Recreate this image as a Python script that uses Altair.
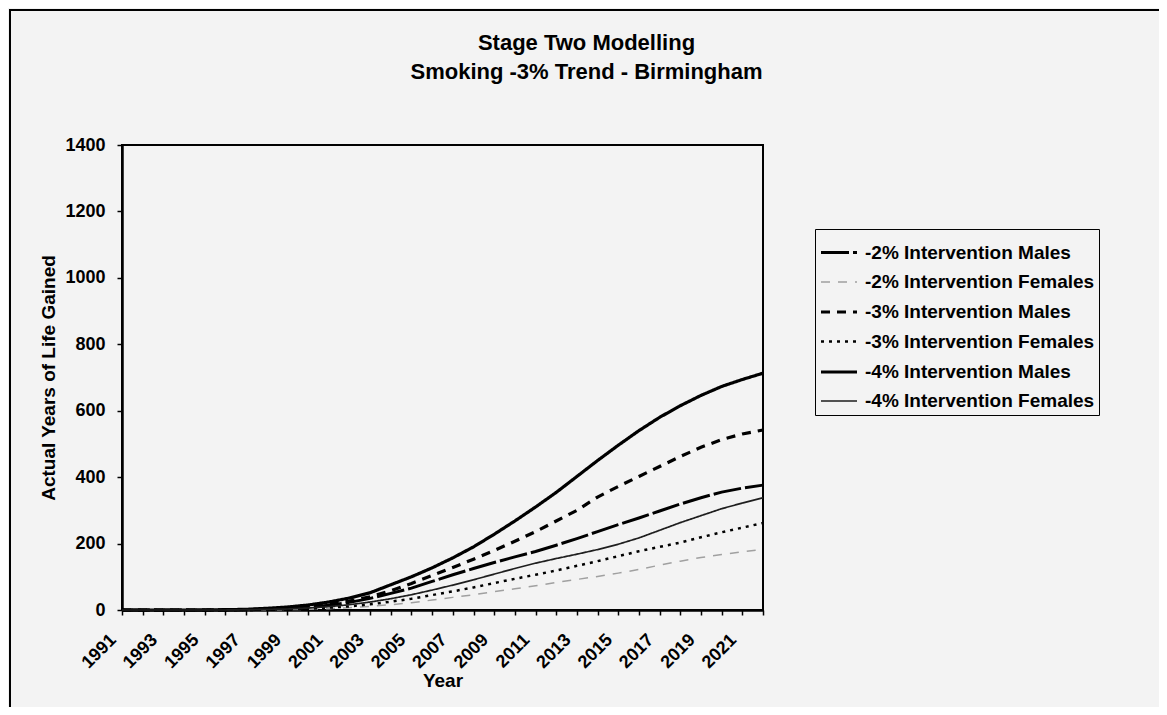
import altair as alt
import pandas as pd

years = list(range(1991, 2023))
series_names = [
    "-2% Intervention Males",
    "-2% Intervention Females",
    "-3% Intervention Males",
    "-3% Intervention Females",
    "-4% Intervention Males",
    "-4% Intervention Females",
]

m2 = [0, 0, 0, 0, 0, 0, 1, 2, 4, 8, 14, 23, 35, 50, 66, 86, 106, 125, 143, 160, 176, 195, 215, 236, 257, 277, 298, 319, 338, 355, 367, 376]
f2 = [0, 0, 0, 0, 0, 0, 0, 1, 1, 2, 4, 7, 11, 16, 22, 30, 38, 46, 55, 64, 73, 83, 92, 101, 111, 122, 135, 147, 158, 167, 175, 183]
m3 = [0, 0, 0, 0, 0, 0, 1, 3, 6, 11, 18, 27, 40, 58, 80, 104, 128, 153, 179, 207, 236, 268, 300, 340, 372, 402, 432, 462, 490, 513, 530, 542]
f3 = [0, 0, 0, 0, 0, 0, 0, 1, 2, 4, 7, 11, 17, 25, 34, 45, 56, 68, 81, 94, 106, 119, 133, 147, 162, 177, 190, 203, 219, 234, 248, 262]
m4 = [0, 0, 0, 0, 0, 1, 2, 5, 9, 15, 24, 36, 52, 76, 100, 127, 157, 190, 228, 268, 310, 354, 402, 450, 496, 540, 580, 615, 646, 673, 694, 713]
f4 = [0, 0, 0, 0, 0, 0, 1, 2, 3, 6, 10, 16, 24, 34, 46, 60, 75, 91, 108, 125, 141, 155, 168, 182, 198, 217, 240, 263, 284, 305, 322, 338]

y_ticks = [0, 200, 400, 600, 800, 1000, 1200, 1400]

colors = ["#000000", "#a0a0a0", "#000000", "#000000", "#000000", "#1e1e1e"]
dashes = [[28, 4], [9, 8], [9, 7], [3, 5], [1, 0], [1, 0]]
widths = [3.0, 1.5, 3.2, 2.5, 3.2, 1.7]

rows = []
for name, vals in zip(series_names, [m2, f2, m3, f3, m4, f4]):
    for yr, v in zip(years, vals):
        rows.append({"Year": yr, "Value": v, "Series": name})
df = pd.DataFrame(rows)

FONT = "Liberation Sans"
BG = "#f3f3f3"

legend = alt.Legend(
    title=None,
    orient="none",
    legendX=693,
    legendY=84,
    symbolType="stroke",
    symbolSize=1296,
    labelFont=FONT,
    labelFontSize=19,
    labelFontWeight="bold",
    labelColor="#000000",
    labelLimit=400,
    labelOffset=6,
    strokeColor="#000000",
    fillColor=BG,
    padding=4,
    rowPadding=-7,
)

lines = alt.Chart(df).mark_line().encode(
    x=alt.X(
        "Year:Q",
        scale=alt.Scale(domain=[1991, 2022], nice=False, zero=False),
        axis=alt.Axis(
            values=years,
            format="d",
            labelExpr="datum.value % 2 == 1 ? datum.label : ''",
            labelAngle=-45,
            labelAlign="right",
            labelBaseline="middle",
            labelPadding=22,
            labelOffset=-9,
            labelOverlap=False,
            labelFlush=False,
            tickSize=5,
            titlePadding=0,
        ),
        title="Year",
    ),
    y=alt.Y(
        "Value:Q",
        scale=alt.Scale(domain=[0, 1400], nice=False),
        axis=alt.Axis(values=y_ticks, format="d", tickSize=5, labelPadding=12, titlePadding=6),
        title="Actual Years of Life Gained",
    ),
    color=alt.Color("Series:N", scale=alt.Scale(domain=series_names, range=colors), sort=series_names, legend=legend),
    strokeDash=alt.StrokeDash("Series:N", scale=alt.Scale(domain=series_names, range=dashes), sort=series_names, legend=legend),
    strokeWidth=alt.StrokeWidth("Series:N", scale=alt.Scale(type="ordinal", domain=series_names, range=widths), sort=series_names, legend=legend),
)

frame = alt.Chart(alt.Data(values=[{}])).mark_rect(
    fill=None, stroke="#000000", strokeWidth=2
).encode(
    x=alt.value(-112), x2=alt.value(1038), y=alt.value(-135), y2=alt.value(568)
)

chart = alt.layer(frame, lines).properties(
    width=641,
    height=465,
    autosize=alt.AutoSizeParams(type="none"),
    padding={"left": 114, "top": 137, "right": 396, "bottom": 97},
    background=BG,
    title=alt.TitleParams(
        ["Stage Two Modelling", "Smoking -3% Trend - Birmingham"],
        font=FONT,
        fontSize=22,
        fontWeight="bold",
        color="#000000",
        anchor="middle",
        dx=144,
        offset=-75,
        lineHeight=29,
    ),
).configure_view(
    stroke="#000000", strokeWidth=2, fill=BG
).configure_axis(
    grid=False,
    domainColor="#000000",
    domainWidth=2.5,
    tickColor="#000000",
    tickWidth=1.5,
    labelFont=FONT,
    labelFontSize=18,
    labelFontWeight="bold",
    labelColor="#000000",
    titleFont=FONT,
    titleFontSize=19,
    titleFontWeight="bold",
    titleColor="#000000",
)

chart.save("out.html", embed_options={"renderer": "svg", "actions": False})
